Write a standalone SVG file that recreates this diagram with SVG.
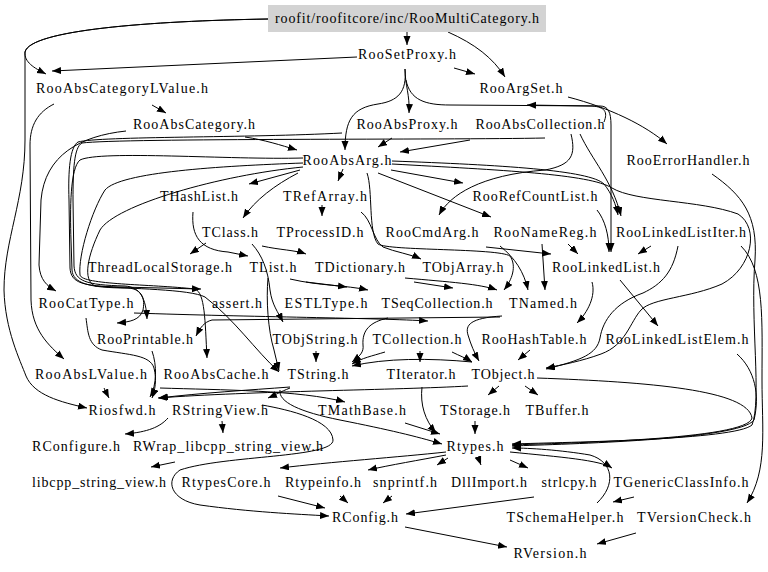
<svg xmlns="http://www.w3.org/2000/svg" width="768" height="572" viewBox="0 0 768 572">
<style>
text{font-family:"Liberation Serif","Times New Roman",serif;font-size:14px;fill:#000;text-anchor:middle}
.e path{fill:none;stroke:#000;stroke-width:1;marker-end:url(#a)}
</style>
<defs>
<marker id="a" markerUnits="userSpaceOnUse" markerWidth="10" markerHeight="8" refX="9" refY="3.5" orient="auto"><path d="M0,0 L9,3.5 L0,7 z" fill="#000"/></marker>
</defs>
<rect width="768" height="572" fill="#fff"/>
<g class="e" id="edges">
<path d="M407,32 L407,45"/>
<path d="M448,32 C475,44 493,58 505,77"/>
<path d="M268,19 C150,21 30,30 25,52 L25,140 C25,200 4,240 4,290 C5,330 20,360 26,376 C34,395 60,402 87,408"/>
<path d="M268,19 C150,21 30,30 25,52 C24,62 34,68 46,74"/>
<path d="M357,57 L52,71"/>
<path d="M454,68 L475,74"/>
<path d="M405,69 C405,85 410,95 409,113"/>
<path d="M405,69 C407,92 398,101 378,104 C352,108 345,120 345,150"/>
<path d="M406,80 C410,100 425,105 450,105 L600,106 C608,106 611,112 611,125 L611,252"/>
<path d="M604,122 C608,112 605,107 592,106 L527,105"/>
<path d="M568,97 C610,108 645,125 667,144"/>
<path d="M152,105 L166,113"/>
<path d="M54,104 C38,112 30,125 30,145 L31,300 C32,330 48,345 64,359"/>
<path d="M245,137 C265,140 280,145 297,150"/>
<path d="M126,131 C80,136 45,155 41,200 L39,265 C40,280 47,286 56,291"/>
<path d="M392,138 L378,147"/>
<path d="M470,140 L400,152"/>
<path d="M342,133 C250,138 100,136 78,142 C70,147 68,170 69,200 L70,268 C71,283 82,286 120,287 L201,289"/>
<path d="M545,138 C450,140 120,138 82,143 C74,147 73,170 73,200 L74,266 C75,281 85,285 125,286 C140,287 146,298 147,319"/>
<path d="M303,158 C230,160 100,150 80,160 C70,168 70,210 71,240 L72,270 C73,283 88,288 128,288 C143,289 145,300 143,310 C140,320 130,322 117,323"/>
<path d="M303,163 C220,166 120,172 105,190 C92,210 78,255 80,275 C82,285 150,284 195,289 C205,293 205,320 207,358"/>
<path d="M303,167 C220,175 115,205 100,230 C88,255 82,280 95,286 C130,289 190,289 205,297 C235,320 255,350 279,372"/>
<path d="M300,170 L249,184"/>
<path d="M298,173 C275,185 255,200 243,218"/>
<path d="M343,169 L338,181"/>
<path d="M322,205 L322,216"/>
<path d="M391,170 L463,183"/>
<path d="M378,173 L491,217"/>
<path d="M571,134 C576,155 572,165 545,170 C480,175 450,195 439,215"/>
<path d="M580,134 C592,160 612,180 621,216"/>
<path d="M392,161 C500,165 590,170 604,184 C612,194 616,205 618,215"/>
<path d="M392,164 C500,170 590,174 612,188 C635,202 700,200 738,214 C760,228 752,268 722,284 C690,298 652,298 641,310 C630,322 626,345 601,354 C582,361 562,365 546,368"/>
<path d="M678,246 C673,272 662,284 643,293 C615,303 603,320 600,338 C597,354 582,360 546,369"/>
<path d="M597,210 C605,220 609,235 609,252"/>
<path d="M568,244 L578,254"/>
<path d="M651,246 L638,254"/>
<path d="M486,247 L551,254"/>
<path d="M193,212 C191,236 200,250 228,252 L248,256"/>
<path d="M206,243 L190,254"/>
<path d="M262,246 C280,250 295,250 306,254"/>
<path d="M252,244 C262,255 268,270 270,290 C272,305 278,312 283,322"/>
<path d="M361,212 C372,220 373,240 383,247 C395,252 410,254 421,259"/>
<path d="M367,173 C373,190 368,232 378,244 C388,251 498,248 510,256 C517,266 512,280 504,290"/>
<path d="M500,246 C515,258 524,272 528,290"/>
<path d="M542,244 L545,290"/>
<path d="M306,282 L347,287"/>
<path d="M290,279 C320,286 345,285 368,290"/>
<path d="M414,282 L453,288"/>
<path d="M405,278 C450,282 480,284 497,290"/>
<path d="M592,282 C596,296 588,312 577,323"/>
<path d="M620,280 L658,326"/>
<path d="M502,316 C470,318 465,325 468,335 C471,345 474,352 479,361"/>
<path d="M500,317 L212,320 C204,322 200,328 196,336"/>
<path d="M134,313 C250,317 380,318 428,321"/>
<path d="M388,318 C370,322 362,330 363,345 C364,352 360,356 352,362"/>
<path d="M316,351 L316,362"/>
<path d="M385,352 C372,356 362,358 352,364"/>
<path d="M472,362 C430,358 385,358 352,366"/>
<path d="M420,351 L420,362"/>
<path d="M452,352 C460,356 466,358 472,362"/>
<path d="M530,350 L518,360"/>
<path d="M268,278 C266,300 268,330 274,350 L279,371"/>
<path d="M152,351 C157,365 157,385 150,397"/>
<path d="M104,388 L109,398"/>
<path d="M86,318 C88,332 88,345 102,350 C130,355 150,355 154,368 C157,380 155,390 152,398"/>
<path d="M468,386 C400,390 250,391 158,398"/>
<path d="M290,387 C250,390 200,393 159,398"/>
<path d="M290,388 C280,392 275,395 268,398"/>
<path d="M160,388 C220,390 300,390 345,402"/>
<path d="M280,390 C278,402 300,412 340,420 C390,430 415,436 442,444"/>
<path d="M262,405 C290,410 332,420 333,440 C334,458 225,455 180,470 C165,480 170,500 200,505 C250,512 295,514 329,516"/>
<path d="M222,421 L223,433"/>
<path d="M168,418 C160,427 148,432 125,434"/>
<path d="M175,462 L151,467"/>
<path d="M405,423 L440,434"/>
<path d="M422,387 C420,405 425,420 436,433"/>
<path d="M475,421 L475,434"/>
<path d="M499,386 L488,395"/>
<path d="M525,386 L538,395"/>
<path d="M537,378 C650,382 748,390 752,418 C748,440 560,443 512,445"/>
<path d="M712,174 C742,195 758,215 755,260 C750,320 762,400 752,425 C735,440 570,442 512,444"/>
<path d="M741,246 C765,270 762,320 762,380 C762,430 768,470 747,503"/>
<path d="M737,354 C755,370 760,395 754,420 C740,440 565,444 512,446"/>
<path d="M510,452 C560,457 600,460 612,468"/>
<path d="M597,503 C616,485 614,462 590,455 C560,450 530,448 512,448"/>
<path d="M634,497 L613,502"/>
<path d="M510,460 L528,468"/>
<path d="M478,457 L481,465"/>
<path d="M448,458 L437,465"/>
<path d="M446,455 C420,460 390,465 368,470"/>
<path d="M446,452 C400,457 330,462 280,468"/>
<path d="M278,496 L325,508"/>
<path d="M340,496 L348,503"/>
<path d="M392,496 L383,503"/>
<path d="M534,497 L406,514"/>
<path d="M405,527 L507,547"/>
<path d="M636,533 L597,544"/>
</g>
<g id="n0"><rect x="268" y="5" width="278" height="27" fill="#d3d3d3"/><text x="407" y="23" textLength="264">roofit/roofitcore/inc/RooMultiCategory.h</text></g>
<g id="n1"><text x="407" y="59" textLength="98">RooSetProxy.h</text></g>
<g id="n2"><text x="122" y="93" textLength="172">RooAbsCategoryLValue.h</text></g>
<g id="n3"><text x="521" y="93" textLength="83">RooArgSet.h</text></g>
<g id="n4"><text x="194" y="129" textLength="122">RooAbsCategory.h</text></g>
<g id="n5"><text x="407" y="129" textLength="101">RooAbsProxy.h</text></g>
<g id="n6"><text x="540" y="129" textLength="129">RooAbsCollection.h</text></g>
<g id="n7"><text x="347" y="165" textLength="89">RooAbsArg.h</text></g>
<g id="n8"><text x="688" y="165" textLength="123">RooErrorHandler.h</text></g>
<g id="n9"><text x="199" y="201" textLength="78">THashList.h</text></g>
<g id="n10"><text x="325" y="201" textLength="84">TRefArray.h</text></g>
<g id="n11"><text x="535" y="201" textLength="125">RooRefCountList.h</text></g>
<g id="n12"><text x="230" y="237" textLength="56">TClass.h</text></g>
<g id="n13"><text x="320" y="237" textLength="87">TProcessID.h</text></g>
<g id="n14"><text x="432" y="237" textLength="93">RooCmdArg.h</text></g>
<g id="n15"><text x="545" y="237" textLength="103">RooNameReg.h</text></g>
<g id="n16"><text x="681" y="237" textLength="130">RooLinkedListIter.h</text></g>
<g id="n17"><text x="160" y="272" textLength="144">ThreadLocalStorage.h</text></g>
<g id="n18"><text x="273" y="272" textLength="47">TList.h</text></g>
<g id="n19"><text x="360" y="272" textLength="90">TDictionary.h</text></g>
<g id="n20"><text x="463" y="272" textLength="81">TObjArray.h</text></g>
<g id="n21"><text x="606" y="272" textLength="108">RooLinkedList.h</text></g>
<g id="n22"><text x="86" y="308" textLength="95">RooCatType.h</text></g>
<g id="n23"><text x="237" y="308" textLength="50">assert.h</text></g>
<g id="n24"><text x="326" y="308" textLength="83">ESTLType.h</text></g>
<g id="n25"><text x="437" y="308" textLength="111">TSeqCollection.h</text></g>
<g id="n26"><text x="543" y="308" textLength="68">TNamed.h</text></g>
<g id="n27"><text x="145" y="344" textLength="96">RooPrintable.h</text></g>
<g id="n28"><text x="315" y="344" textLength="85">TObjString.h</text></g>
<g id="n29"><text x="417" y="344" textLength="89">TCollection.h</text></g>
<g id="n30"><text x="534" y="344" textLength="105">RooHashTable.h</text></g>
<g id="n31"><text x="677" y="344" textLength="143">RooLinkedListElem.h</text></g>
<g id="n32"><text x="91" y="379" textLength="112">RooAbsLValue.h</text></g>
<g id="n33"><text x="216" y="379" textLength="105">RooAbsCache.h</text></g>
<g id="n34"><text x="318" y="379" textLength="61">TString.h</text></g>
<g id="n35"><text x="421" y="379" textLength="69">TIterator.h</text></g>
<g id="n36"><text x="503" y="379" textLength="63">TObject.h</text></g>
<g id="n37"><text x="122" y="415" textLength="67">Riosfwd.h</text></g>
<g id="n38"><text x="220" y="415" textLength="96">RStringView.h</text></g>
<g id="n39"><text x="362" y="415" textLength="88">TMathBase.h</text></g>
<g id="n40"><text x="475" y="415" textLength="70">TStorage.h</text></g>
<g id="n41"><text x="557" y="415" textLength="63">TBuffer.h</text></g>
<g id="n42"><text x="76" y="451" textLength="88">RConfigure.h</text></g>
<g id="n43"><text x="228" y="451" textLength="190">RWrap_libcpp_string_view.h</text></g>
<g id="n44"><text x="475" y="451" textLength="57">Rtypes.h</text></g>
<g id="n45"><text x="99" y="487" textLength="134">libcpp_string_view.h</text></g>
<g id="n46"><text x="226" y="487" textLength="89">RtypesCore.h</text></g>
<g id="n47"><text x="323" y="487" textLength="76">Rtypeinfo.h</text></g>
<g id="n48"><text x="405" y="487" textLength="64">snprintf.h</text></g>
<g id="n49"><text x="489" y="487" textLength="76">DllImport.h</text></g>
<g id="n50"><text x="569" y="487" textLength="55">strlcpy.h</text></g>
<g id="n51"><text x="681" y="487" textLength="135">TGenericClassInfo.h</text></g>
<g id="n52"><text x="365" y="522" textLength="66">RConfig.h</text></g>
<g id="n53"><text x="565" y="522" textLength="117">TSchemaHelper.h</text></g>
<g id="n54"><text x="694" y="522" textLength="114">TVersionCheck.h</text></g>
<g id="n55"><text x="550" y="558" textLength="73">RVersion.h</text></g>
</svg>
